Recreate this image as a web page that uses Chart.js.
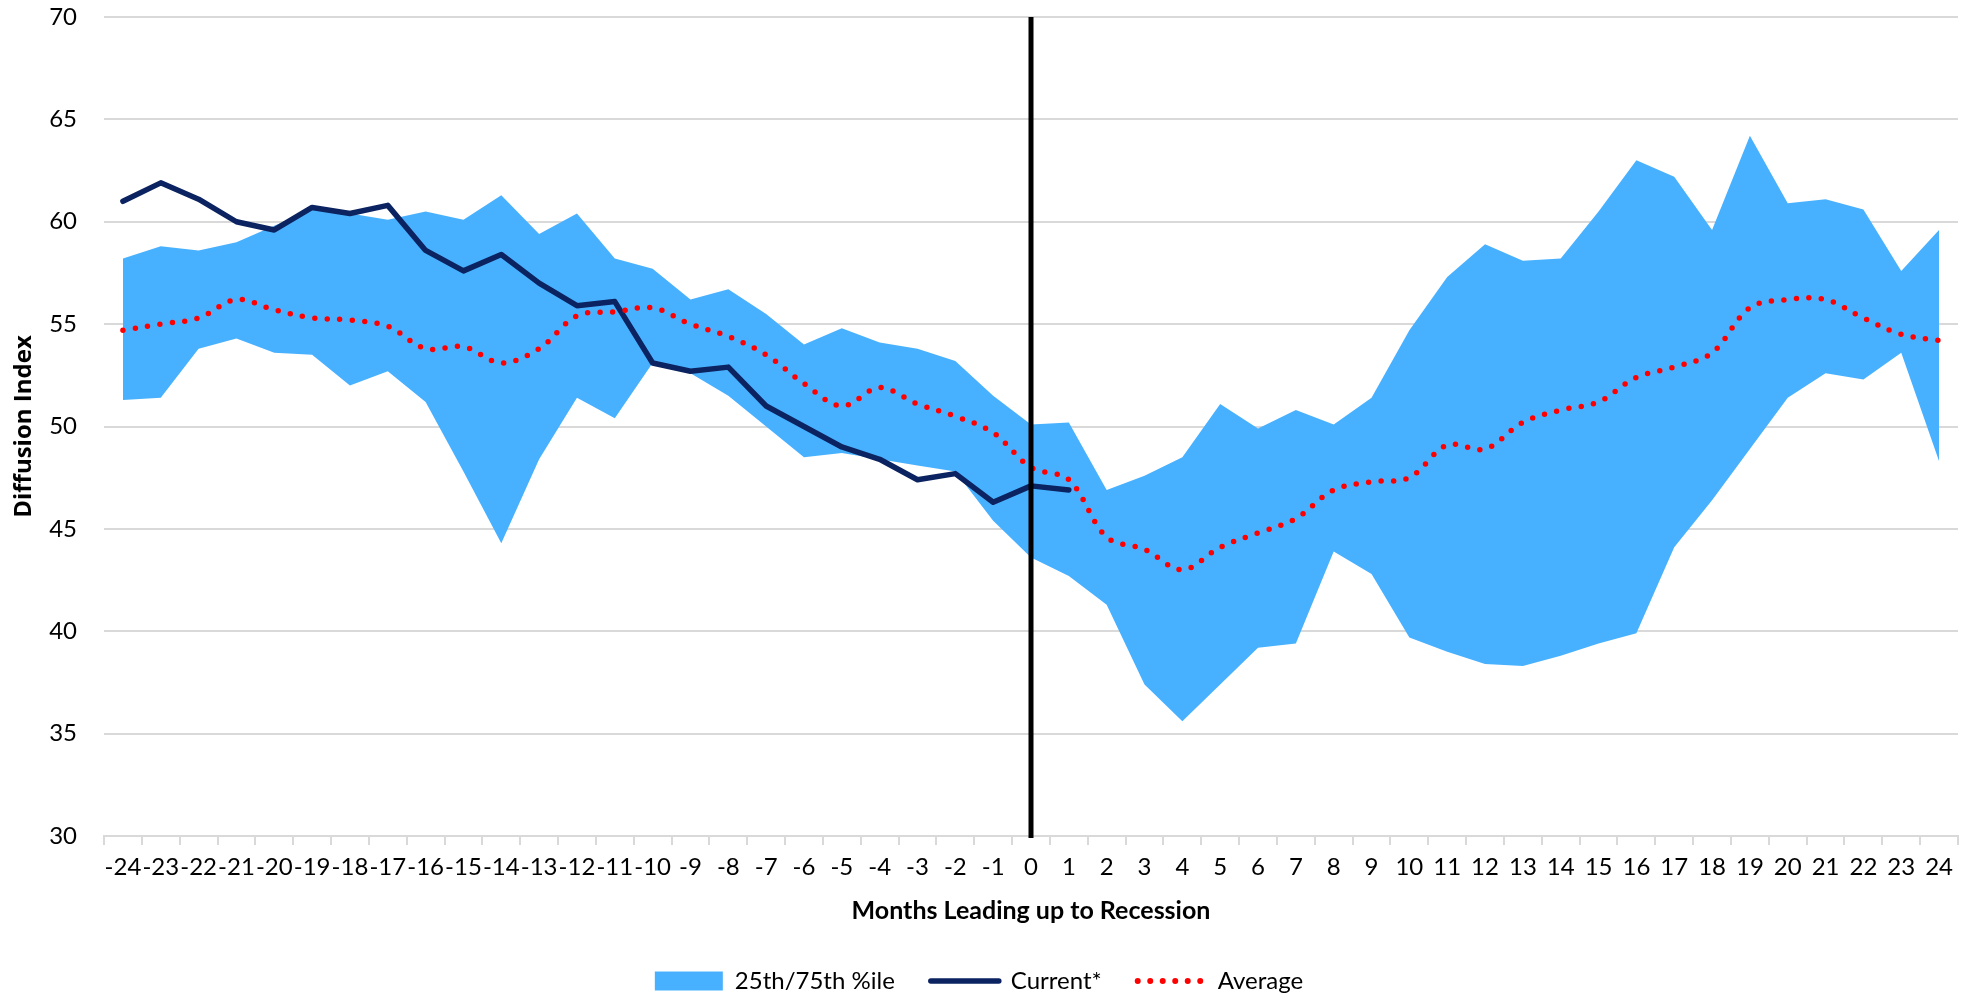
<!DOCTYPE html>
<html>
<head>
<meta charset="utf-8">
<title>Diffusion Index around recessions</title>
<script src="https://cdn.jsdelivr.net/npm/chart.js@4.4.1/dist/chart.umd.min.js"></script>
<style>
    html, body { margin: 0; padding: 0; background: #ffffff; }
    #wrap { width: 1974px; height: 996px; }
</style>
</head>
<body>
<div id="wrap"><canvas id="myChart" width="1974" height="996"></canvas></div>
<script>
// months relative to the start of the recession
const months = ['-24', '-23', '-22', '-21', '-20', '-19', '-18', '-17', '-16', '-15', '-14', '-13',
    '-12', '-11', '-10', '-9', '-8', '-7', '-6', '-5', '-4', '-3', '-2', '-1', '0',
    '1', '2', '3', '4', '5', '6', '7', '8', '9', '10', '11', '12', '13', '14', '15', '16',
    '17', '18', '19', '20', '21', '22', '23', '24'];

// 75th percentile (top of the band)
const pct75 = [58.2, 58.8, 58.6, 59.0, 59.8, 60.6, 60.4, 60.1, 60.5, 60.1, 61.3, 59.4,
    60.4, 58.2, 57.7, 56.2, 56.7, 55.5, 54.0, 54.8, 54.1, 53.8, 53.2, 51.5, 50.1,
    50.2, 46.9, 47.6, 48.5, 51.1, 49.9, 50.8, 50.1, 51.4, 54.7, 57.3, 58.9, 58.1, 58.2, 60.5, 63.0,
    62.2, 59.6, 64.2, 60.9, 61.1, 60.6, 57.6, 59.6];

// 25th percentile (bottom of the band)
const pct25 = [51.3, 51.4, 53.8, 54.3, 53.6, 53.5, 52.0, 52.7, 51.2, 47.8, 44.3, 48.4,
    51.4, 50.4, 53.1, 52.6, 51.5, 50.0, 48.5, 48.7, 48.4, 48.1, 47.8, 45.4, 43.6,
    42.7, 41.3, 37.4, 35.6, 37.4, 39.2, 39.4, 43.9, 42.8, 39.7, 39.0, 38.4, 38.3, 38.8, 39.4, 39.9,
    44.1, 46.4, 48.9, 51.4, 52.6, 52.3, 53.6, 48.3];

// current cycle, only known up to month 1
const current = [61.0, 61.9, 61.1, 60.0, 59.6, 60.7, 60.4, 60.8, 58.6, 57.6, 58.4, 57.0,
    55.9, 56.1, 53.1, 52.7, 52.9, 51.0, 50.0, 49.0, 48.4, 47.4, 47.7, 46.3, 47.1,
    46.9];

// average of past recessions
const average = [54.7, 55.0, 55.3, 56.2, 55.7, 55.3, 55.2, 54.9, 53.8, 53.9, 53.1, 53.8,
    55.4, 55.6, 55.8, 55.0, 54.4, 53.5, 52.1, 51.0, 51.9, 51.1, 50.5, 49.7, 48.0,
    47.4, 44.6, 44.0, 43.0, 44.1, 44.8, 45.5, 46.9, 47.3, 47.5, 49.1, 48.9, 50.2, 50.8, 51.2, 52.4,
    52.9, 53.6, 55.8, 56.2, 56.2, 55.3, 54.5, 54.2];

const yTicks = [30, 35, 40, 45, 50, 55, 60, 65, 70];
const recessionMonth = '0';

const bandColor = '#48b1ff';
const navy = '#0b2360';
const red = '#ff0000';
const gridColor = '#d9d9d9';
const fontFamily = 'Lato, "Open Sans", sans-serif';

// black vertical line at the start of the recession
const recessionLine = {
    id: 'recessionLine',
    afterDatasetsDraw(chart) {
        const x = chart.scales.x.getPixelForValue(months.indexOf(recessionMonth));
        const y = chart.scales.y;
        const ctx = chart.ctx;
        ctx.save();
        ctx.strokeStyle = '#000000';
        ctx.lineWidth = 5;
        ctx.beginPath();
        ctx.moveTo(x, y.getPixelForValue(yTicks[yTicks.length - 1]));
        ctx.lineTo(x, y.getPixelForValue(yTicks[0]) + 2);
        ctx.stroke();
        ctx.restore();
    }
};

const chartElement = document.getElementById('myChart').getContext('2d');

window.myChart = new Chart(chartElement, {
    type: 'line',
    data: {
        labels: months,
        datasets: [
            {
                label: 'Average',
                data: average,
                borderColor: red,
                borderWidth: 5.5,
                borderDash: [0, 12.5],
                borderCapStyle: 'round',
                tension: 0.35,
                pointRadius: 0,
                fill: false
            },
            {
                label: 'Current*',
                data: current,
                borderColor: navy,
                borderWidth: 5.5,
                borderCapStyle: 'round',
                borderJoinStyle: 'round',
                tension: 0,
                pointRadius: 0,
                fill: false
            },
            {
                label: '25th/75th %ile',
                data: pct75,
                borderColor: 'rgba(0,0,0,0)',
                borderWidth: 0,
                backgroundColor: bandColor,
                pointRadius: 0,
                tension: 0,
                fill: '+1'
            },
            {
                label: '25th',
                data: pct25,
                borderColor: 'rgba(0,0,0,0)',
                borderWidth: 0,
                pointRadius: 0,
                tension: 0,
                fill: false
            }
        ]
    },
    options: {
        responsive: false,
        animation: false,
        layout: {
            // legend height is itemHeight + padding + 10, pull it down a little
            padding: { left: 0, right: 16, top: 17, bottom: -7 }
        },
        plugins: {
            tooltip: { enabled: false },
            legend: {
                position: 'bottom',
                labels: {
                    usePointStyle: true,
                    pointStyleWidth: 68,
                    boxHeight: 19,
                    padding: 36,
                    color: '#000000',
                    font: { family: fontFamily, size: 24 },
                    generateLabels: function () {
                        return [
                            { text: '25th/75th %ile', fillStyle: bandColor, strokeStyle: bandColor, lineWidth: 0, pointStyle: 'rect', datasetIndex: 2 },
                            { text: 'Current*', fillStyle: navy, strokeStyle: navy, lineWidth: 5.5, lineCap: 'round', pointStyle: 'line', datasetIndex: 1 },
                            { text: 'Average', fillStyle: red, strokeStyle: red, lineWidth: 6, lineCap: 'round', lineDash: [0, 12.5], pointStyle: 'line', datasetIndex: 0 }
                        ];
                    }
                },
                onClick: null
            }
        },
        scales: {
            x: {
                offset: true,
                afterFit: function (scale) {
                    scale.height = 97;
                },
                grid: {
                    offset: true,
                    drawOnChartArea: false,
                    drawTicks: true,
                    tickLength: 9,
                    color: gridColor,
                    lineWidth: 2
                },
                border: { color: gridColor, width: 2 },
                ticks: {
                    autoSkip: false,
                    maxRotation: 0,
                    padding: 8,
                    color: '#000000',
                    font: { family: fontFamily, size: 24 }
                },
                title: {
                    display: true,
                    text: 'Months Leading up to Recession',
                    color: '#000000',
                    font: { family: fontFamily, size: 25, weight: 'bold' },
                    padding: { top: 0, bottom: 7 }
                }
            },
            y: {
                min: yTicks[0],
                max: yTicks[yTicks.length - 1],
                afterFit: function (scale) {
                    scale.width = 104;
                    scale.paddingTop = 0;
                    scale.paddingBottom = 0;
                },
                afterBuildTicks: function (scale) {
                    scale.ticks = yTicks.map((v) => ({ value: v }));
                },
                grid: {
                    color: gridColor,
                    lineWidth: 2,
                    drawTicks: false
                },
                border: { display: false },
                ticks: {
                    padding: 27,
                    color: '#000000',
                    font: { family: fontFamily, size: 24 }
                },
                title: {
                    display: true,
                    text: 'Diffusion Index',
                    color: '#000000',
                    font: { family: '"Open Sans", sans-serif', size: 24, weight: 'bold' },
                    padding: { top: 10, bottom: 0 }
                }
            }
        }
    },
    plugins: [recessionLine]
});
</script>
</body>
</html>
